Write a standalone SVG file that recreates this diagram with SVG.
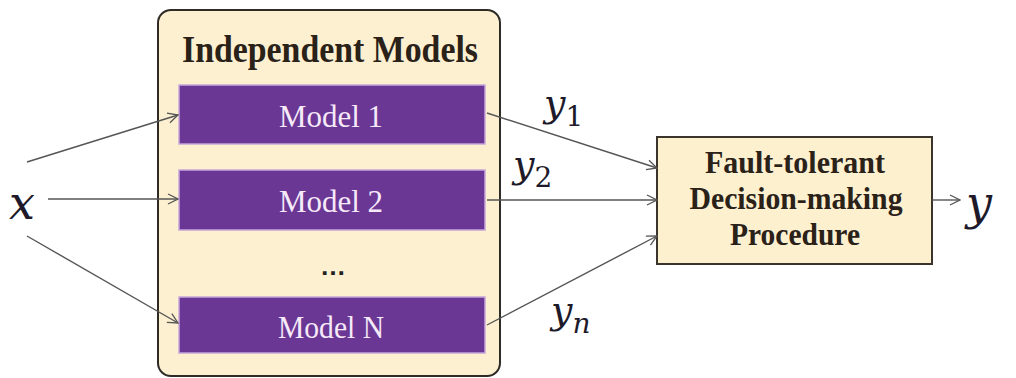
<svg xmlns="http://www.w3.org/2000/svg" width="1016" height="378" viewBox="0 0 1016 378">
  <defs>
    <marker id="arrow" viewBox="0 0 12 12" refX="11" refY="6" markerWidth="12" markerHeight="12" markerUnits="userSpaceOnUse" orient="auto">
      <path d="M1,1 L11,6 L1,11" fill="none" stroke="#555" stroke-width="1.3"/>
    </marker>
    <style>
      .conn { stroke: #555; stroke-width: 1.4; fill: none; marker-end: url(#arrow); }
      .model { fill: #6a3795; stroke: #c6a6dc; stroke-width: 1.5; }
      .mtext { font-family: "Liberation Serif", serif; font-size: 32px; fill: #f6e9f8; text-anchor: middle; }
      .btext { font-family: "Liberation Serif", serif; font-weight: bold; fill: #2a2118; text-anchor: middle; }
      .math { font-family: "DejaVu Serif", "Liberation Serif", serif; font-style: italic; fill: #1e1a2a; }
    </style>
  </defs>
  <rect width="1016" height="378" fill="#ffffff"/>

  <!-- container of the independent models -->
  <g id="independent-models">
    <rect x="158" y="10" width="342" height="366" rx="13" fill="#fcf0d0" stroke="#2e2a26" stroke-width="2"/>
    <text class="btext" x="330" y="62" font-size="38" textLength="296" lengthAdjust="spacingAndGlyphs">Independent Models</text>
    <text x="333" y="275" font-family="Liberation Sans, sans-serif" font-size="26" font-weight="bold" fill="#222" text-anchor="middle">…</text>
  </g>

  <g id="model-1">
    <rect class="model" x="179" y="85" width="306" height="59"/>
    <text class="mtext" x="331" y="127" textLength="104" lengthAdjust="spacingAndGlyphs">Model 1</text>
  </g>
  <g id="model-2">
    <rect class="model" x="179" y="170" width="306" height="60"/>
    <text class="mtext" x="331" y="212" textLength="104" lengthAdjust="spacingAndGlyphs">Model 2</text>
  </g>
  <g id="model-n">
    <rect class="model" x="179" y="297" width="306" height="56"/>
    <text class="mtext" x="331" y="338" textLength="106" lengthAdjust="spacingAndGlyphs">Model N</text>
  </g>

  <g id="decision">
    <rect x="657" y="137" width="275" height="127" fill="#fcf0cf" stroke="#3a342c" stroke-width="2"/>
    <text class="btext" x="795" y="173" font-size="32" textLength="180" lengthAdjust="spacingAndGlyphs">Fault-tolerant</text>
    <text class="btext" x="796" y="209" font-size="32" textLength="213" lengthAdjust="spacingAndGlyphs">Decision-making</text>
    <text class="btext" x="795" y="245" font-size="32" textLength="130" lengthAdjust="spacingAndGlyphs">Procedure</text>
  </g>

  <g id="input-x">
    <text class="math" x="9" y="219" font-size="46">x</text>
  </g>
  <g id="output-y">
    <text class="math" x="966" y="219" font-size="46">y</text>
  </g>

  <!-- connectors -->
  <g id="connectors">
    <line class="conn" x1="27" y1="162" x2="178" y2="115"/>
    <line class="conn" x1="48" y1="199" x2="178" y2="199"/>
    <line class="conn" x1="27" y1="236" x2="178" y2="323"/>
    <line class="conn" x1="487" y1="113" x2="657" y2="168"/>
    <line class="conn" x1="487" y1="200" x2="657" y2="200"/>
    <line class="conn" x1="487" y1="325" x2="657" y2="236"/>
    <line class="conn" x1="932" y1="200" x2="960" y2="200"/>
  </g>

  <!-- output labels -->
  <g id="labels">
    <text class="math" x="544" y="116" font-size="38">y<tspan font-style="normal" font-size="28" dy="10">1</tspan></text>
    <text class="math" x="513" y="177" font-size="38">y<tspan font-style="normal" font-size="28" dy="10">2</tspan></text>
    <text class="math" x="551" y="323" font-size="38">y<tspan font-size="28" dy="10">n</tspan></text>
  </g>
</svg>
